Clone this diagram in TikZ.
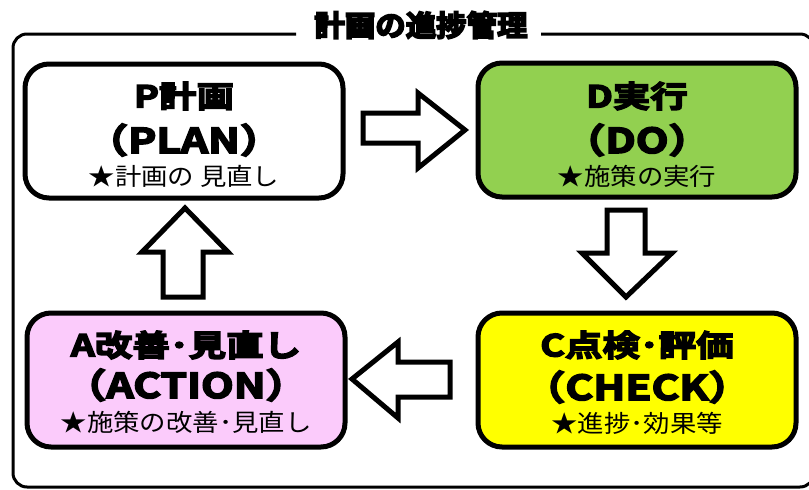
\documentclass[tikz,border=0pt]{standalone}
\usepackage{fontspec}
\usetikzlibrary{calc}
\newfontfamily\titlefont[FakeBold=6,FakeStretch=1.05]{Noto Sans CJK JP Bold}
\newfontfamily\headfont[FakeBold=5,FakeStretch=1.25]{Noto Sans CJK JP Bold}
\newfontfamily\subfont[FakeStretch=1.1]{Noto Sans CJK JP}
\definecolor{dogreen}{HTML}{92D050}
\definecolor{chkyellow}{HTML}{FFFF00}
\definecolor{actpink}{HTML}{FBCBFB}
\begin{document}
\begin{tikzpicture}[x=1pt,y=-1pt,
  pdcabox/.style={draw=black,line width=5pt,rounded corners=24pt,minimum width=318pt,minimum height=134pt,inner sep=0pt},
  headtxt/.style={inner sep=0pt,font=\headfont\fontsize{30}{30}\selectfont},
  parentxt/.style={inner sep=0pt,font=\headfont\fontsize{34}{34}\selectfont},
  subtxt/.style={inner sep=0pt,font=\subfont\fontsize{24}{24}\selectfont},
  blockarrow/.style={draw=black,fill=white,line width=5pt,line join=miter},
  frameline/.style={draw=black,line width=3pt,rounded corners=14pt}]
\useasboundingbox (0,0) rectangle (809,490);
\clip (0,0) rectangle (809,490);
% outer frame
\draw[frameline] (296,34) -- (13,34) -- (13,487) -- (814,487) -- (814,34) -- (541,34);
\node[inner sep=0pt,font=\titlefont\fontsize{29}{29}\selectfont] (title) at (421,25) {計画の進捗管理};
% boxes
\node[pdcabox,fill=white] (P) at (184,131) {};
\node[pdcabox,fill=dogreen] (D) at (637,130) {};
\node[pdcabox,fill=chkyellow] (C) at (637,380) {};
\node[pdcabox,fill=actpink] (A) at (186,380) {};
% texts
\node[headtxt] (P1) at ($(P)+(0,-35)$) {P計画};
\node[parentxt] (P2) at ($(P)+(0,9)$) {（PLAN）};
\node[subtxt] (P3) at ($(P)+(0,45)$) {★計画の 見直し};
\node[headtxt] (D1) at ($(D)+(0,-34)$) {D実行};
\node[parentxt] (D2) at ($(D)+(0,10)$) {（DO）};
\node[subtxt] (D3) at ($(D)+(0,46)$) {★施策の実行};
\node[headtxt] (C1) at ($(C)+(0,-35)$) {C点検･評価};
\node[parentxt] (C2) at ($(C)+(0,7)$) {（CHECK）};
\node[subtxt] (C3) at ($(C)+(0,43)$) {★進捗･効果等};
\node[headtxt] (A1) at ($(A)+(0,-35)$) {A改善･見直し};
\node[parentxt] (A2) at ($(A)+(0,5)$) {（ACTION）};
\node[subtxt] (A3) at ($(A)+(0,42)$) {★施策の改善･見直し};
% block arrows
\draw[blockarrow] (363,113) -- (418,113) -- (418,93) -- (465,130) -- (418,168) -- (418,143) -- (363,143) -- cycle;
\draw[blockarrow] (607,210) -- (645,210) -- (645,253) -- (672,253) -- (626,297) -- (582,253) -- (607,253) -- cycle;
\draw[blockarrow] (450,362) -- (398,362) -- (398,342) -- (352,379) -- (398,418) -- (398,397) -- (450,397) -- cycle;
\draw[blockarrow] (163,297) -- (163,252) -- (142,252) -- (185,208) -- (228,252) -- (203,252) -- (203,297) -- cycle;
\end{tikzpicture}
\end{document}
